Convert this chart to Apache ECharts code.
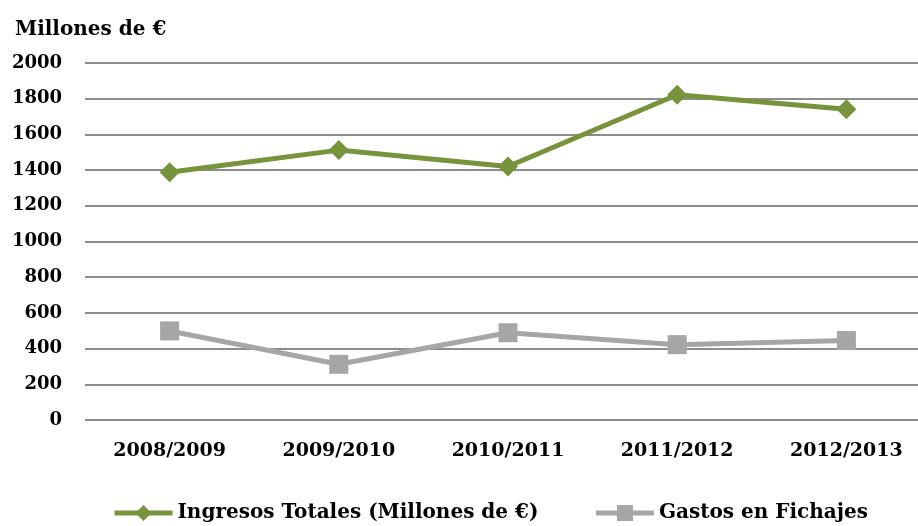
<!DOCTYPE html>
<html>
<head>
<meta charset="utf-8">
<script src="https://cdn.jsdelivr.net/npm/echarts@6/dist/echarts.min.js"></script>
<style>
  html, body { margin: 0; padding: 0; background: #fff; overflow: hidden; }
  /* the plot runs past the right edge of the picture, as in the original */
  #chart { width: 931px; height: 526px; }
</style>
</head>
<body>
<div id="chart"></div>
<script>
const temporadas = ['2008/2009', '2009/2010', '2010/2011', '2011/2012', '2012/2013']
const ingresos = [1388, 1512, 1420, 1822, 1741]
const fichajes = [499, 312, 489, 422, 445]

const fuente = '"DejaVu Serif", "Liberation Serif", serif'

const chart = echarts.init(document.getElementById('chart'))
chart.setOption({
  animation: false,
  textStyle: { fontFamily: fuente },
  title: {
    text: 'Millones de €',
    left: 10,
    top: 15,
    textStyle: { fontFamily: fuente, fontWeight: 'bold', fontSize: 20, color: '#000' }
  },
  legend: {
    bottom: -2,
    left: 107,
    itemGap: 55,
    itemWidth: 58,
    itemHeight: 20,
    lineStyle: { width: 5 },
    textStyle: { fontFamily: fuente, fontWeight: 'bold', fontSize: 20, color: '#000' },
    data: [
      { name: 'Ingresos Totales (Millones de €)', lineStyle: { width: 5 } },
      { name: 'Gastos en Fichajes', lineStyle: { width: 5 } }
    ]
  },
  grid: {
    left: 85,
    top: 63,
    right: 0,
    height: 357,
    containLabel: false
  },
  xAxis: {
    type: 'category',
    data: temporadas,
    axisLine: { show: false },
    axisTick: { show: false },
    axisLabel: { margin: 22, fontFamily: fuente, fontWeight: 'bold', fontSize: 19, color: '#000' }
  },
  yAxis: {
    type: 'value',
    min: 0,
    max: 2000,
    interval: 200,
    axisLine: { show: false },
    axisTick: { show: false },
    axisLabel: {
      margin: 23,
      formatter: v => String(v),
      fontFamily: fuente, fontWeight: 'bold', fontSize: 18, color: '#000'
    },
    splitLine: { lineStyle: { color: '#8c8c8c', width: 2 } }
  },
  series: [
    {
      name: 'Ingresos Totales (Millones de €)',
      type: 'line',
      data: ingresos,
      symbol: 'diamond',
      symbolSize: 20,
      color: '#77933C',
      lineStyle: { width: 5, color: '#77933C' },
      itemStyle: { color: '#77933C' }
    },
    {
      name: 'Gastos en Fichajes',
      type: 'line',
      data: fichajes,
      symbol: 'rect',
      symbolSize: 19,
      color: '#A6A6A6',
      lineStyle: { width: 5, color: '#A6A6A6' },
      itemStyle: { color: '#A6A6A6' }
    }
  ]
})
</script>
</body>
</html>
